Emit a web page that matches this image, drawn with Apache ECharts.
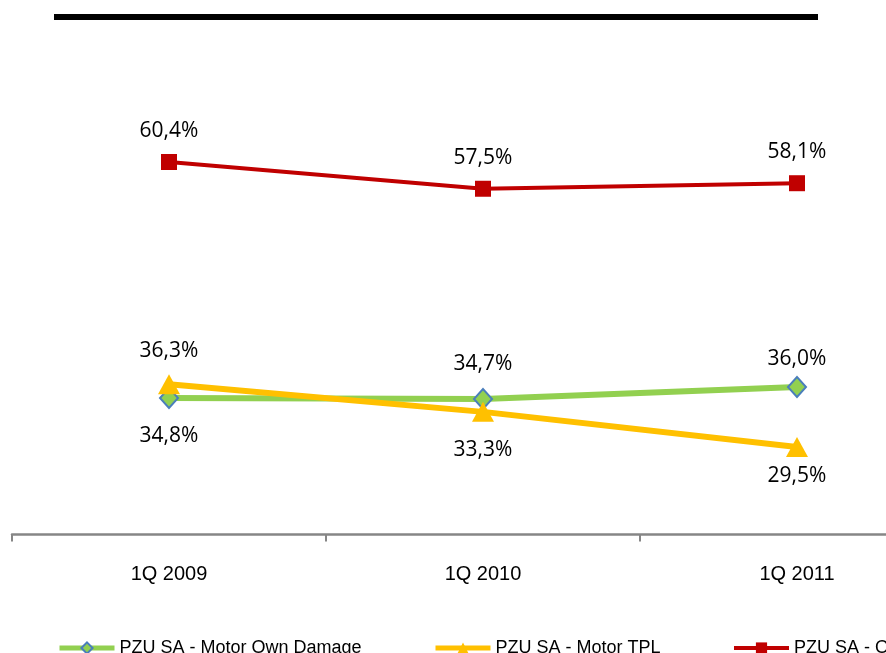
<!DOCTYPE html>
<html>
<head>
<meta charset="utf-8">
<script src="https://cdn.jsdelivr.net/npm/echarts@6/dist/echarts.min.js"></script>
<style>
  html, body { margin: 0; padding: 0; background: #fff; }
  #main { width: 886px; height: 653px; }
</style>
</head>
<body>
<div id="main"></div>
<script>
var categories = ['1Q 2009', '1Q 2010', '1Q 2011'];
var seriesNames = ['PZU SA - Motor Own Damage', 'PZU SA - Motor TPL', 'PZU SA - Overall'];
var ownDamage = [34.8, 34.7, 36.0];
var motorTpl = [36.3, 33.3, 29.5];
var overall = [60.4, 57.5, 58.1];

// label offsets from the point (Excel placed them by hand)
var labelDy = {
    ownDamage: [38, -35, -28],
    motorTpl: [-33, 38, 29],
    overall: [-31, -31, -31]
};

function fmt(v) {
    return v.toFixed(1).replace('.', ',') + '%';
}

function withLabels(values, dys) {
    return values.map(function (v, i) {
        return {value: v, label: {offset: [0, dys[i]]}};
    });
}

var labelStyle = {
    show: true,
    position: 'inside',
    fontFamily: 'Open Sans',
    fontSize: 21,
    color: '#000',
    formatter: function (p) { return fmt(p.value); }
};

function legendFor(i, left, lineWidth) {
    return {
        left: left,
        top: 634,
        itemWidth: 55,
        itemHeight: 14,
        itemGap: 0,
        lineStyle: {width: lineWidth},
        textStyle: {fontFamily: 'Liberation Sans', fontSize: 18, color: '#000'},
        data: [seriesNames[i]]
    };
}

var chartDom = document.getElementById('main');
var myChart = echarts.init(chartDom);

var option = {
    animation: false,
    // the plot runs past the right edge of the picture
    grid: {left: 12, width: 942, top: 73.5, bottom: 118.5, outerBoundsMode: 'none', containLabel: false},
    graphic: [{
        type: 'rect',
        shape: {x: 54, y: 14, width: 764, height: 6},
        style: {fill: '#000'}
    }],
    legend: [
        legendFor(0, 52, 5),
        legendFor(1, 428, 5),
        legendFor(2, 727, 4)
    ],
    xAxis: {
        type: 'category',
        data: categories,
        boundaryGap: true,
        axisLine: {lineStyle: {color: '#868686', width: 2.5}},
        axisTick: {show: true, alignWithLabel: false, length: 7, lineStyle: {color: '#868686', width: 2}},
        axisLabel: {margin: 30, fontFamily: 'Liberation Sans', fontSize: 20, color: '#000'}
    },
    yAxis: {
        type: 'value',
        min: 20,
        max: 70,
        show: false,
        splitLine: {show: false}
    },
    series: [
        {
            name: seriesNames[0],
            type: 'line',
            data: withLabels(ownDamage, labelDy.ownDamage),
            symbol: 'diamond',
            symbolSize: [18, 20],
            lineStyle: {color: '#92D050', width: 6},
            itemStyle: {color: '#92D050', borderColor: '#4A7EBB', borderWidth: 2},
            label: labelStyle,
            z: 2
        },
        {
            name: seriesNames[1],
            type: 'line',
            data: withLabels(motorTpl, labelDy.motorTpl),
            symbol: 'triangle',
            symbolSize: [22, 20],
            lineStyle: {color: '#FFC000', width: 6},
            itemStyle: {color: '#FFC000'},
            label: labelStyle,
            z: 3
        },
        {
            name: seriesNames[2],
            type: 'line',
            data: withLabels(overall, labelDy.overall),
            symbol: 'rect',
            symbolSize: 16,
            lineStyle: {color: '#C00000', width: 4},
            itemStyle: {color: '#C00000'},
            label: labelStyle,
            z: 4
        }
    ]
};

option && myChart.setOption(option);
</script>
</body>
</html>
